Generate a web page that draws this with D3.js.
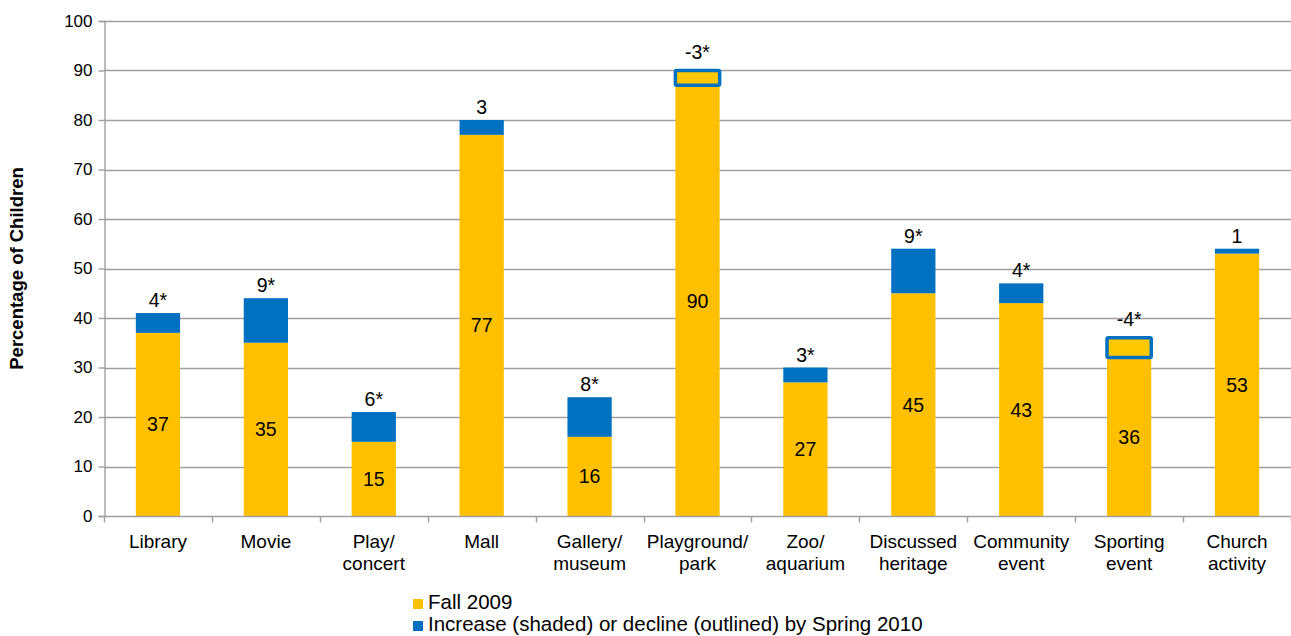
<!DOCTYPE html>
<html>
<head>
<meta charset="utf-8">
<script src="https://cdn.jsdelivr.net/npm/d3@7"></script>
<style>
  html, body { margin: 0; padding: 0; background: #fff; }
  svg { display: block; font-family: "Liberation Sans", Arial, sans-serif; }
</style>
</head>
<body>
<svg id="chart" width="1291" height="636"></svg>
<script>
// Activities and the share of children who took part
const categories = [
  ["Library"], ["Movie"], ["Play/", "concert"], ["Mall"], ["Gallery/", "museum"],
  ["Playground/", "park"], ["Zoo/", "aquarium"], ["Discussed", "heritage"],
  ["Community", "event"], ["Sporting", "event"], ["Church", "activity"]
];
const fall2009 = [37, 35, 15, 77, 16, 90, 27, 45, 43, 36, 53];
const change = [4, 9, 6, 3, 8, -3, 3, 9, 4, -4, 1];
const changeLabels = ["4*", "9*", "6*", "3", "8*", "-3*", "3*", "9*", "4*", "-4*", "1"];
const yTicks = [0, 10, 20, 30, 40, 50, 60, 70, 80, 90, 100];
const legendLabels = ["Fall 2009", "Increase (shaded) or decline (outlined) by Spring 2010"];

const YELLOW = "#FFC000", BLUE = "#0070C0", GRID = "#A0A0A0";

const svg = d3.select("#chart");
const margin = { left: 104, right: 0, top: 21, bottom: 120 };
const W = 1291, H = 636;
const plotBottom = H - margin.bottom;

const x = d3.scaleBand()
  .domain(d3.range(categories.length))
  .range([margin.left, W - margin.right])
  .padding(0);
const y = d3.scaleLinear().domain([0, 100]).range([plotBottom, margin.top]);
const barW = x.bandwidth() * 0.41;
const bx = i => x(i) + (x.bandwidth() - barW) / 2;

// Horizontal gridlines
svg.append("g").selectAll("line").data(yTicks.slice(1)).join("line")
  .attr("x1", margin.left).attr("x2", W)
  .attr("y1", d => Math.round(y(d)) + 0.5).attr("y2", d => Math.round(y(d)) + 0.5)
  .attr("stroke", GRID).attr("stroke-width", 1.4);

// Y axis
const yAxis = svg.append("g")
  .attr("transform", `translate(${margin.left + 0.5},0)`)
  .call(d3.axisLeft(y).tickValues(yTicks).tickSize(6).tickPadding(6));
yAxis.select(".domain").attr("stroke", GRID).attr("stroke-width", 1.4);
yAxis.selectAll(".tick line").attr("stroke", GRID).attr("stroke-width", 1.4);
yAxis.selectAll(".tick text").attr("font-size", 17).attr("fill", "#000")
  .attr("font-family", "Liberation Sans, Arial, sans-serif");

// Y axis title
svg.append("text")
  .attr("transform", `translate(23,${(margin.top + plotBottom) / 2}) rotate(-90)`)
  .attr("text-anchor", "middle")
  .attr("font-size", 18.5).attr("font-weight", "bold")
  .text("Percentage of Children");

// Bars: base (fall 2009, minus any decline), increase on top, decline as outline
const bars = svg.append("g");
fall2009.forEach((f, i) => {
  const base = change[i] < 0 ? f + change[i] : f;
  bars.append("rect")
    .attr("x", bx(i)).attr("width", barW)
    .attr("y", y(base)).attr("height", y(0) - y(base))
    .attr("fill", YELLOW);
  if (change[i] > 0) {
    bars.append("rect")
      .attr("x", bx(i)).attr("width", barW)
      .attr("y", y(f + change[i])).attr("height", y(f) - y(f + change[i]))
      .attr("fill", BLUE);
  } else {
    bars.append("rect")
      .attr("x", bx(i)).attr("width", barW)
      .attr("y", y(f)).attr("height", y(base) - y(f))
      .attr("fill", "#FFC800").attr("stroke", BLUE).attr("stroke-width", 3.5)
      .attr("rx", 1.5);
  }
  // value inside base segment
  bars.append("text")
    .attr("x", x(i) + x.bandwidth() / 2)
    .attr("y", y(base / 2) + 7)
    .attr("text-anchor", "middle").attr("font-size", 19.5)
    .text(f);
  // change label above bar
  const top = Math.max(f, f + change[i]);
  bars.append("text")
    .attr("x", x(i) + x.bandwidth() / 2)
    .attr("y", y(top) - (change[i] < 0 ? 12 : 6))
    .attr("text-anchor", "middle").attr("font-size", 19.5)
    .text(changeLabels[i]);
});

// X axis
const xAxisG = svg.append("g").attr("transform", `translate(0,${Math.round(plotBottom) + 0.5})`);
xAxisG.append("line").attr("x1", margin.left).attr("x2", W).attr("stroke", GRID).attr("stroke-width", 1.4);
xAxisG.selectAll("line.tk").data(d3.range(categories.length + 1)).join("line")
  .attr("class", "tk")
  .attr("x1", i => Math.round(margin.left + i * x.step()) + 0.5)
  .attr("x2", i => Math.round(margin.left + i * x.step()) + 0.5)
  .attr("y1", 0).attr("y2", 6)
  .attr("stroke", GRID).attr("stroke-width", 1.4);
categories.forEach((lines, i) => {
  const t = xAxisG.append("text")
    .attr("text-anchor", "middle").attr("font-size", 19)
    .attr("x", x(i) + x.bandwidth() / 2);
  lines.forEach((ln, k) => {
    t.append("tspan").attr("x", x(i) + x.bandwidth() / 2).attr("y", 31 + k * 22).text(ln);
  });
});

// Legend
const legend = svg.append("g").attr("transform", "translate(413,599)");
[YELLOW, BLUE].forEach((c, k) => {
  legend.append("rect").attr("x", 0).attr("y", k * 22).attr("width", 10).attr("height", 10).attr("fill", c);
  legend.append("text").attr("x", 15).attr("y", k * 22 + 10).attr("font-size", 20.5).text(legendLabels[k]);
});
</script>
</body>
</html>
